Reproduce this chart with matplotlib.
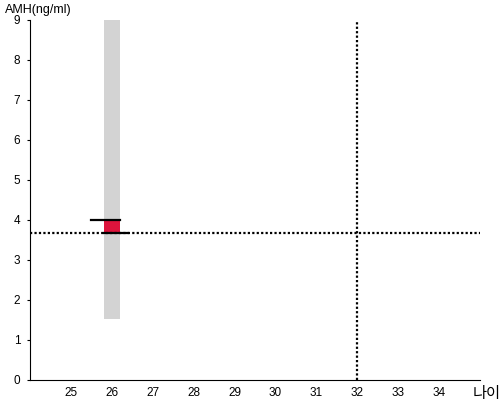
import matplotlib.pyplot as plt
from matplotlib.patches import Rectangle

plt.rcParams['font.family'] = ['Liberation Sans', 'Noto Sans CJK KR', 'DejaVu Sans']

# data
age = 26
amh = 3.68
ref_age = 32
band_low, band_high = 1.53, 9.0
top_value = 4.0
x_ticks = [25, 26, 27, 28, 29, 30, 31, 32, 33, 34]
y_ticks = [0, 1, 2, 3, 4, 5, 6, 7, 8, 9]

fig = plt.figure(figsize=(5, 4), dpi=100)
ax = fig.add_axes([0.06, 0.05, 0.90, 0.90])
ax.set_xlim(24, 35)
ax.set_ylim(0, 9)

# gray range band
ax.add_patch(Rectangle((age - 0.2, band_low), 0.4, band_high - band_low,
                       facecolor='#d3d3d3', edgecolor='none', zorder=1))
# red box between value and 4.0
ax.add_patch(Rectangle((age - 0.2, amh), 0.4, top_value - amh,
                       facecolor='#dc143c', edgecolor='none', zorder=2))
ax.plot([age - 0.5, age + 0.2], [top_value, top_value], color='black', lw=1.6, zorder=3)
ax.plot([age - 0.2, age + 0.4], [amh, amh], color='black', lw=1.6, zorder=3)

# reference lines
ax.axhline(amh, color='black', lw=1.6, ls=(0, (1, 1)), zorder=2)
ax.axvline(ref_age, color='black', lw=1.6, ls=(0, (1, 1)), zorder=2)

ax.set_xticks(x_ticks)
ax.set_yticks(y_ticks)
ax.tick_params(axis='x', length=0, labelsize=8.5, pad=5)
ax.tick_params(axis='y', length=2, labelsize=8.5, pad=5)
ax.spines['top'].set_visible(False)
ax.spines['right'].set_visible(False)

fig.text(0.01, 0.975, 'AMH(ng/ml)', fontsize=9, va='center', ha='left')
fig.text(0.946, 0.015, '나이', fontsize=11, va='center', ha='left')

fig.savefig('out.png', dpi=100)
